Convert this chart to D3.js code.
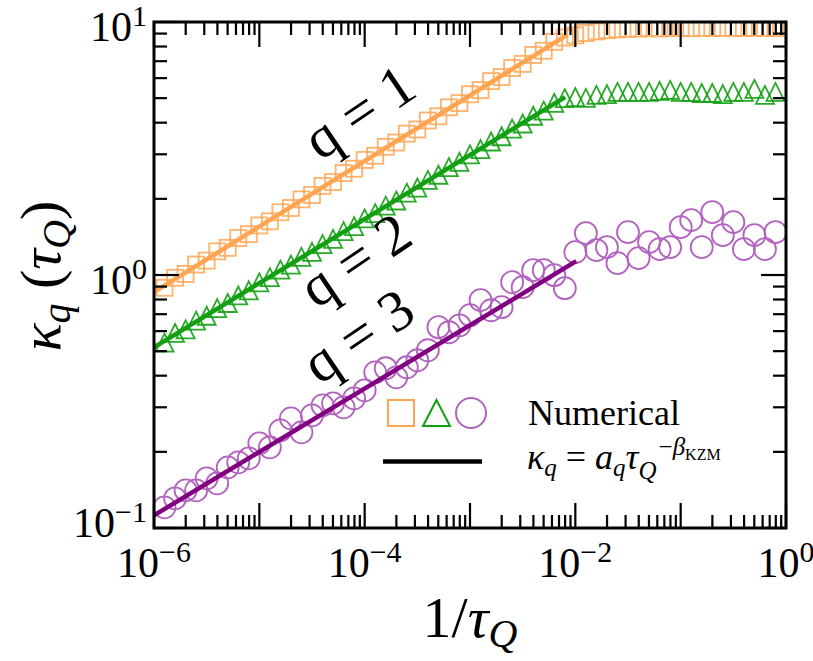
<!DOCTYPE html>
<html>
<head>
<meta charset="utf-8">
<script src="https://cdn.jsdelivr.net/npm/d3@7"></script>
<style>
  body { margin: 0; background: #fff; }
  text { font-family: "Liberation Serif", "DejaVu Serif", serif; fill: #000; }
</style>
</head>
<body>
<svg width="813" height="661"></svg>
<script>
// log10 of 1/tau_Q for every sample
var logX = [-5.9, -5.8, -5.7, -5.6, -5.5, -5.4, -5.3, -5.2, -5.1, -5.0,
  -4.9, -4.8, -4.7, -4.6, -4.5, -4.4, -4.3, -4.2, -4.1, -4.0,
  -3.9, -3.8, -3.7, -3.6, -3.5, -3.4, -3.3, -3.2, -3.1, -3.0,
  -2.9, -2.8, -2.7, -2.6, -2.5, -2.4, -2.3, -2.2, -2.1, -2.0,
  -1.9, -1.8, -1.7, -1.6, -1.5, -1.4, -1.3, -1.2, -1.1, -1.0,
  -0.9, -0.8, -0.7, -0.6, -0.5, -0.4, -0.3, -0.2, -0.1];

var kappa1 = [0.89, 0.975, 1.01, 1.10, 1.14, 1.24, 1.28, 1.40, 1.45, 1.57,
  1.63, 1.77, 1.84, 1.99, 2.07, 2.25, 2.33, 2.53, 2.63, 2.85,
  2.96, 3.21, 3.34, 3.62, 3.76, 4.08, 4.24, 4.60, 4.78, 5.18,
  5.38, 5.84, 6.06, 6.58, 6.83, 7.41, 7.70, 8.35, 8.68, 8.85,
  9.05, 9.18, 9.28, 9.35, 9.40, 9.42, 9.45, 9.43, 9.46, 9.47,
  9.45, 9.48, 9.46, 9.47, 9.49, 9.46, 9.48, 9.47, 9.46];

var kappa2 = [0.54, 0.59, 0.61, 0.66, 0.69, 0.74, 0.775, 0.83, 0.87, 0.935,
  0.98, 1.05, 1.10, 1.18, 1.235, 1.325, 1.39, 1.49, 1.56, 1.675,
  1.755, 1.88, 1.97, 2.115, 2.215, 2.375, 2.49, 2.67, 2.80, 3.00,
  3.145, 3.37, 3.535, 3.79, 3.97, 4.26, 4.46, 4.79, 5.0, 5.05,
  5.01, 5.15, 5.19, 5.29, 5.29, 5.29, 5.29, 5.34, 5.39, 5.29,
  5.29, 5.24, 5.24, 5.19, 5.29, 5.29, 5.44, 5.15, 5.29];

var kappa3 = [0.1206, 0.131, 0.1408, 0.1408, 0.1571, 0.1501, 0.1737, 0.1818, 0.1885, 0.2162,
  0.2084, 0.2432, 0.2714, 0.2388, 0.2789, 0.3055, 0.3111, 0.2999, 0.3256, 0.3501,
  0.4125, 0.4279, 0.3941, 0.4318, 0.4603, 0.5041, 0.6217, 0.5939, 0.6328, 0.6935,
  0.795, 0.7256, 0.746, 0.9365, 0.8951, 1.045, 1.045, 0.998, 0.8867, 1.231,
  1.464, 1.254, 1.288, 1.114, 1.477, 1.166, 1.348, 1.265, 1.288, 1.546,
  1.647, 1.288, 1.772, 1.437, 1.618, 1.265, 1.437, 1.265, 1.477];

// fitted power laws: [start, end] in x and kappa
var fit1X = [1e-6, 8.36e-3], fit1Y = [0.855, 8.89];
var fit2X = [1e-6, 8.0e-3], fit2Y = [0.518, 5.05];
var fit3X = [1e-6, 1.02e-2], fit3Y = [0.1122, 1.134];

var xTicks = [1e-6, 1e-4, 1e-2, 1];
var xTickExp = ["\u22126", "\u22124", "\u22122", "0"];
var yTicks = [0.1, 1, 10];
var yTickExp = ["\u22121", "0", "1"];

var colors = { q1: "#ffa552", q2: "#12a012", q3: "#b263bf", line3: "#800080" };

var svg = d3.select("svg"),
  pl = 154, pr = 786, pt = 22, pb = 528;

var x = d3.scaleLog().domain([1e-6, 1]).range([pl, pr]);
var y = d3.scaleLog().domain([0.1, 10]).range([pb, pt]);

svg.append("clipPath").attr("id", "clip")
  .append("rect")
  .attr("x", pl).attr("y", pt)
  .attr("width", pr - pl).attr("height", pb - pt);

var plot = svg.append("g").attr("clip-path", "url(#clip)");

function pts(ks) {
  return logX.map(function (lx, i) { return [Math.pow(10, lx), ks[i]]; });
}

// squares
plot.append("g").selectAll("rect")
  .data(pts(kappa1))
  .enter().append("rect")
  .attr("x", function (d) { return x(d[0]) - 8; })
  .attr("y", function (d) { return y(d[1]) - 8; })
  .attr("width", 16).attr("height", 16)
  .attr("fill", "none")
  .attr("stroke", colors.q1)
  .attr("stroke-opacity", 0.85)
  .attr("stroke-width", 1.8);

// triangles
plot.append("g").selectAll("path")
  .data(pts(kappa2))
  .enter().append("path")
  .attr("d", "M0,-9L9,9L-9,9Z")
  .attr("transform", function (d) { return "translate(" + x(d[0]) + "," + y(d[1]) + ")"; })
  .attr("fill", "none")
  .attr("stroke", colors.q2)
  .attr("stroke-opacity", 0.9)
  .attr("stroke-width", 1.8);

// circles
plot.append("g").selectAll("circle")
  .data(pts(kappa3))
  .enter().append("circle")
  .attr("cx", function (d) { return x(d[0]); })
  .attr("cy", function (d) { return y(d[1]); })
  .attr("r", 11)
  .attr("fill", "none")
  .attr("stroke", colors.q3)
  .attr("stroke-width", 1.8);

var line = d3.line()
  .x(function (d) { return x(d[0]); })
  .y(function (d) { return y(d[1]); });

[[fit1X, fit1Y, colors.q1], [fit2X, fit2Y, colors.q2], [fit3X, fit3Y, colors.line3]]
  .forEach(function (f) {
    plot.append("path")
      .attr("d", line([[f[0][0], f[1][0]], [f[0][1], f[1][1]]]))
      .attr("fill", "none")
      .attr("stroke", f[2])
      .attr("stroke-width", 4.5);
  });

// ticks on all four sides, pointing inward
function minors(lo, hi) {
  var out = [];
  for (var e = lo; e < hi; e++)
    for (var m = 2; m <= 9; m++) out.push(m * Math.pow(10, e));
  return out;
}
var xMinor = minors(-6, 0), yMinor = minors(-1, 1);
var xMajor = d3.range(-6, 1).map(function (e) { return Math.pow(10, e); });

var ticks = svg.append("g").attr("stroke", "#000").attr("stroke-width", 2.2);
function xt(vals, len) {
  vals.forEach(function (v) {
    ticks.append("line").attr("x1", x(v)).attr("x2", x(v)).attr("y1", pb).attr("y2", pb - len);
    ticks.append("line").attr("x1", x(v)).attr("x2", x(v)).attr("y1", pt).attr("y2", pt + len);
  });
}
function yt(vals, len) {
  vals.forEach(function (v) {
    ticks.append("line").attr("y1", y(v)).attr("y2", y(v)).attr("x1", pl).attr("x2", pl + len);
    ticks.append("line").attr("y1", y(v)).attr("y2", y(v)).attr("x1", pr).attr("x2", pr - len);
  });
}
xt(xMinor, 13); xt(xMajor, 25);
yt(yMinor, 13); yt(yTicks, 25);

svg.append("rect")
  .attr("x", pl).attr("y", pt)
  .attr("width", pr - pl).attr("height", pb - pt)
  .attr("fill", "none").attr("stroke", "#000").attr("stroke-width", 3);

// tick labels
var xl = svg.append("g").attr("font-size", 42).attr("text-anchor", "middle");
xTicks.forEach(function (v, i) {
  var t = xl.append("text").attr("x", x(v)).attr("y", 577);
  t.append("tspan").text("10");
  t.append("tspan").attr("dy", -15).attr("font-size", 30).text(xTickExp[i]);
});

var yl = svg.append("g").attr("font-size", 42).attr("text-anchor", "end");
yTicks.forEach(function (v, i) {
  var t = yl.append("text").attr("x", 147).attr("y", y(v) + (v < 1 ? 9 : 19));
  t.append("tspan").text("10");
  t.append("tspan").attr("dy", -15).attr("font-size", 30).text(yTickExp[i]);
});

// axis labels
var xlab = svg.append("text").attr("x", 470).attr("y", 637)
  .attr("font-size", 58).attr("text-anchor", "middle");
xlab.append("tspan").text("1/");
xlab.append("tspan").attr("font-style", "italic").text("\u03c4");
xlab.append("tspan").attr("font-style", "italic").attr("font-size", 40).attr("dy", 10).text("Q");

var ylab = svg.append("text")
  .attr("transform", "translate(60,276) rotate(-90)")
  .attr("font-size", 58).attr("text-anchor", "middle");
ylab.append("tspan").attr("font-style", "italic").text("\u03ba");
ylab.append("tspan").attr("font-style", "italic").attr("font-size", 40).attr("dy", 10).text("q");
ylab.append("tspan").attr("dy", -10).text(" (");
ylab.append("tspan").attr("font-style", "italic").text("\u03c4");
ylab.append("tspan").attr("font-style", "italic").attr("font-size", 40).attr("dy", 10).text("Q");
ylab.append("tspan").attr("dy", -10).text(")");

// q annotations along the fits
var qLabels = [["q = 1", 370, 128], ["q = 2", 366, 276], ["q = 3", 369, 352]];
qLabels.forEach(function (q) {
  svg.append("text")
    .attr("transform", "translate(" + q[1] + "," + q[2] + ") rotate(-34)")
    .attr("font-size", 58).attr("text-anchor", "middle")
    .text(q[0]);
});

// legend
var lg = svg.append("g");
lg.append("rect").attr("x", 388).attr("y", 400).attr("width", 26).attr("height", 26)
  .attr("fill", "none").attr("stroke", colors.q1).attr("stroke-width", 2);
lg.append("path").attr("d", "M436.5,400L450,426L423,426Z")
  .attr("fill", "none").attr("stroke", colors.q2).attr("stroke-width", 2);
lg.append("circle").attr("cx", 471).attr("cy", 413).attr("r", 15)
  .attr("fill", "none").attr("stroke", colors.q3).attr("stroke-width", 2);
lg.append("line").attr("x1", 383).attr("x2", 482).attr("y1", 461.5).attr("y2", 461.5)
  .attr("stroke", "#000").attr("stroke-width", 4.5);
lg.append("text").attr("x", 528).attr("y", 425).attr("font-size", 36).text("Numerical");

var f = lg.append("text").attr("x", 527).attr("y", 469).attr("font-size", 36);
f.append("tspan").attr("font-style", "italic").text("\u03ba");
f.append("tspan").attr("font-style", "italic").attr("font-size", 25).attr("dy", 7).text("q");
f.append("tspan").attr("dy", -7).text(" = ");
f.append("tspan").attr("font-style", "italic").text("a");
f.append("tspan").attr("font-style", "italic").attr("font-size", 25).attr("dy", 7).text("q");
f.append("tspan").attr("font-style", "italic").attr("dy", -7).text("\u03c4");
f.append("tspan").attr("font-style", "italic").attr("font-size", 25).attr("dy", 10).text("Q");
f.append("tspan").attr("font-size", 25).attr("dy", -24).attr("dx", 2).text("\u2212");
f.append("tspan").attr("font-size", 25).attr("font-style", "italic").text("\u03b2");
f.append("tspan").attr("font-size", 16).attr("dy", 5).text("KZM");
</script>
</body>
</html>
